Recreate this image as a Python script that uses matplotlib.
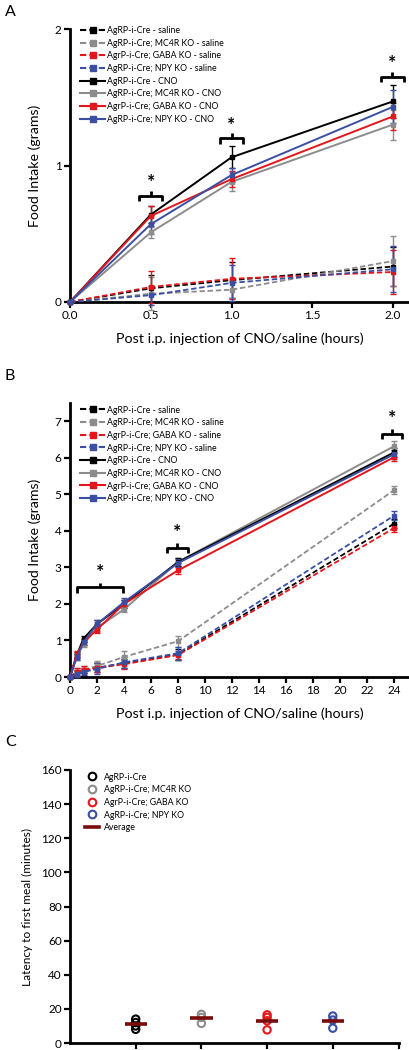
import matplotlib
matplotlib.use("Agg")
import matplotlib.pyplot as plt
from matplotlib.lines import Line2D
import numpy as np

plt.rcParams['font.family'] = ['Lato', 'DejaVu Sans']

# ---------------- data ----------------
groups = ["AgRP-i-Cre", "AgRP-i-Cre; MC4R KO", "AgrP-i-Cre; GABA KO", "AgRP-i-Cre; NPY KO"]
colors = ["#000000", "#8c8c8c", "#e3161b", "#3a4fa3"]

# Panel A
a_time = [0.0, 0.5, 1.0, 2.0]
a_saline = [
    [0.0, 0.10, 0.16, 0.26],
    [0.0, 0.06, 0.09, 0.30],
    [0.0, 0.11, 0.17, 0.22],
    [0.0, 0.05, 0.14, 0.24],
]
a_saline_err = [
    [0.0, 0.10, 0.13, 0.14],
    [0.0, 0.12, 0.06, 0.18],
    [0.0, 0.12, 0.15, 0.16],
    [0.0, 0.07, 0.13, 0.17],
]
a_cno = [
    [0.0, 0.64, 1.06, 1.47],
    [0.0, 0.51, 0.88, 1.30],
    [0.0, 0.63, 0.90, 1.36],
    [0.0, 0.57, 0.93, 1.43],
]
a_cno_err = [
    [0.0, 0.06, 0.08, 0.12],
    [0.0, 0.04, 0.07, 0.11],
    [0.0, 0.07, 0.06, 0.10],
    [0.0, 0.07, 0.05, 0.12],
]
a_brackets = [(0.43, 0.57, 0.78), (0.93, 1.07, 1.20), (1.925, 2.065, 1.65)]

# Panel B
b_time = [0.0, 0.5, 1.0, 2.0, 4.0, 8.0, 24.0]
b_saline = [
    [0.0, 0.10, 0.14, 0.25, 0.38, 0.62, 4.20],
    [0.0, 0.15, 0.20, 0.30, 0.55, 0.98, 5.12],
    [0.0, 0.14, 0.20, 0.25, 0.35, 0.60, 4.08],
    [0.0, 0.08, 0.14, 0.22, 0.40, 0.65, 4.42],
]
b_saline_err = [
    [0.0, 0.10, 0.10, 0.12, 0.12, 0.15, 0.12],
    [0.0, 0.10, 0.10, 0.15, 0.15, 0.15, 0.10],
    [0.0, 0.10, 0.10, 0.12, 0.12, 0.12, 0.12],
    [0.0, 0.08, 0.08, 0.15, 0.15, 0.18, 0.12],
]
b_cno = [
    [0.0, 0.60, 1.05, 1.45, 2.00, 3.15, 6.15],
    [0.0, 0.55, 0.90, 1.35, 1.85, 3.15, 6.32],
    [0.0, 0.62, 0.95, 1.30, 2.00, 2.92, 6.02],
    [0.0, 0.55, 0.95, 1.45, 2.05, 3.12, 6.10],
]
b_cno_err = [
    [0.0, 0.08, 0.08, 0.10, 0.10, 0.10, 0.12],
    [0.0, 0.08, 0.08, 0.10, 0.08, 0.10, 0.15],
    [0.0, 0.08, 0.08, 0.10, 0.10, 0.10, 0.12],
    [0.0, 0.08, 0.08, 0.10, 0.12, 0.12, 0.12],
]
b_brackets = [(0.5, 3.9, 2.45), (7.15, 8.7, 3.53), (23.1, 24.6, 6.65)]

# Panel C
c_pos = [1, 2, 3, 4]
c_values = [
    [8.0, 10.0, 12.0, 14.0],
    [11.5, 15.0, 16.8],
    [7.7, 13.0, 15.0, 16.5],
    [8.7, 13.5, 15.8],
]

# ---------------- figure ----------------
fig = plt.figure(figsize=(4.1, 10.5), dpi=100)
W, H = 410.0, 1050.0

def axes_px(left, right, top, bottom):
    return fig.add_axes([left / W, 1 - bottom / H, (right - left) / W, (bottom - top) / H])

def style(ax):
    for s in ['top', 'right']:
        ax.spines[s].set_visible(False)
    for s in ['left', 'bottom']:
        ax.spines[s].set_linewidth(2.0)
    ax.tick_params(width=1.6, length=4, labelsize=8.5, pad=2)

def bracket(ax, x0, x1, y, d, star_dy, lw=2.0):
    xm = (x0 + x1) / 2
    ax.plot([x0, x0, x1, x1], [y - d, y, y, y - d], color='black', lw=lw, clip_on=False,
            solid_joinstyle='round', solid_capstyle='butt', zorder=5)
    ax.plot([xm, xm], [y, y + d * 0.9], color='black', lw=lw, clip_on=False,
            solid_capstyle='butt', zorder=5)
    ax.text(xm, y + star_dy, '*', ha='center', va='center', fontsize=14, fontweight='bold')

def legend_handles():
    hs = []
    labs = []
    for c, g in zip(colors, groups):
        hs.append(Line2D([], [], color=c, ls=(0, (3, 1.5)), lw=1.5, marker='s', ms=4))
        labs.append(g + " - saline")
    for c, g in zip(colors, groups):
        hs.append(Line2D([], [], color=c, ls='-', lw=1.5, marker='s', ms=4))
        labs.append(g + " - CNO")
    return hs, labs

def plot_series(ax, t, sal, sal_e, cno, cno_e, ms=4):
    for i in range(4):
        ax.errorbar(t, sal[i], yerr=sal_e[i], color=colors[i], ls=(0, (3, 1.5)), lw=1.3,
                    marker='s', ms=ms, capsize=2.5, elinewidth=1.0, capthick=1.0, clip_on=False, zorder=3)
    for i in [1, 0, 2, 3]:
        ax.errorbar(t, cno[i], yerr=cno_e[i], color=colors[i], ls='-', lw=1.4,
                    marker='s', ms=ms, capsize=2.5, elinewidth=1.0, capthick=1.0, clip_on=False, zorder=4)

# ---- Panel A ----
axA = axes_px(70, 410, 29, 302)
style(axA)
plot_series(axA, a_time, a_saline, a_saline_err, a_cno, a_cno_err, ms=3.5)
axA.set_xlim(0, 2.105)
axA.set_ylim(0, 2)
axA.set_xticks([0.0, 0.5, 1.0, 1.5, 2.0])
axA.set_xticklabels(['0.0', '0.5', '1.0', '1.5', '2.0'])
axA.set_yticks([0, 1, 2])
axA.set_xlabel('Post i.p. injection of CNO/saline (hours)', fontsize=10.3, labelpad=8)
axA.set_ylabel('Food Intake (grams)', fontsize=10.2, labelpad=10)
for x0, x1, y in a_brackets:
    bracket(axA, x0, x1, y, 0.04, 0.095)
hs, labs = legend_handles()
axA.legend(hs, labs, loc='upper left', bbox_to_anchor=(0.015, 1.03), frameon=False, fontsize=6.3,
           handlelength=2.8, handletextpad=0.3, labelspacing=0.42, borderaxespad=0.2)

# ---- Panel B ----
axB = axes_px(70, 410, 403, 677)
style(axB)
plot_series(axB, b_time, b_saline, b_saline_err, b_cno, b_cno_err, ms=3.5)
axB.set_xlim(0, 25.16)
axB.set_ylim(0, 7.5)
axB.set_xticks(list(range(0, 25, 2)))
axB.set_yticks(list(range(0, 8)))
axB.set_xlabel('Post i.p. injection of CNO/saline (hours)', fontsize=10.3, labelpad=8)
axB.set_ylabel('Food Intake (grams)', fontsize=10.2, labelpad=10)
for x0, x1, y in b_brackets:
    bracket(axB, x0, x1, y, 0.14, 0.42)
hs, labs = legend_handles()
axB.legend(hs, labs, loc='upper left', bbox_to_anchor=(0.015, 1.01), frameon=False, fontsize=6.3,
           handlelength=2.8, handletextpad=0.3, labelspacing=0.42, borderaxespad=0.2)

# ---- Panel C ----
axC = axes_px(70, 398.5, 770, 1043)
style(axC)
for i in range(4):
    v = c_values[i]
    axC.scatter([c_pos[i]] * len(v), v, s=28, facecolors='none', edgecolors=colors[i],
                linewidths=1.5, zorder=3, clip_on=False)
    m = np.mean(v)
    axC.plot([c_pos[i] - 0.17, c_pos[i] + 0.17], [m, m], color='#7a0c0c', lw=2.6, zorder=4,
             solid_capstyle='butt')
axC.set_xlim(0, 5)
axC.set_ylim(0, 160)
axC.set_yticks(list(range(0, 161, 20)))
axC.set_xticks([1, 2, 3, 4, 5])
axC.set_xticklabels([])
axC.set_ylabel('Latency to first meal (minutes)', fontsize=8.6, labelpad=6)
ch = [Line2D([], [], ls='none', marker='o', ms=5.5, mfc='none', mec=c, mew=1.5) for c in colors]
ch.append(Line2D([], [], color='#7a0c0c', lw=2.6))
axC.legend(ch, groups + ['Average'], loc='upper left', bbox_to_anchor=(0.03, 1.01), frameon=False,
           fontsize=6.3, handlelength=1.6, handletextpad=0.6, labelspacing=0.42, borderaxespad=0.2)

# panel letters
fig.text(5 / W, 1 - 12 / H, 'A', fontsize=11.5, va='center', ha='left')
fig.text(5 / W, 1 - 376 / H, 'B', fontsize=11.5, va='center', ha='left')
fig.text(5 / W, 1 - 742 / H, 'C', fontsize=11.5, va='center', ha='left')

fig.savefig('out.png', dpi=100)
